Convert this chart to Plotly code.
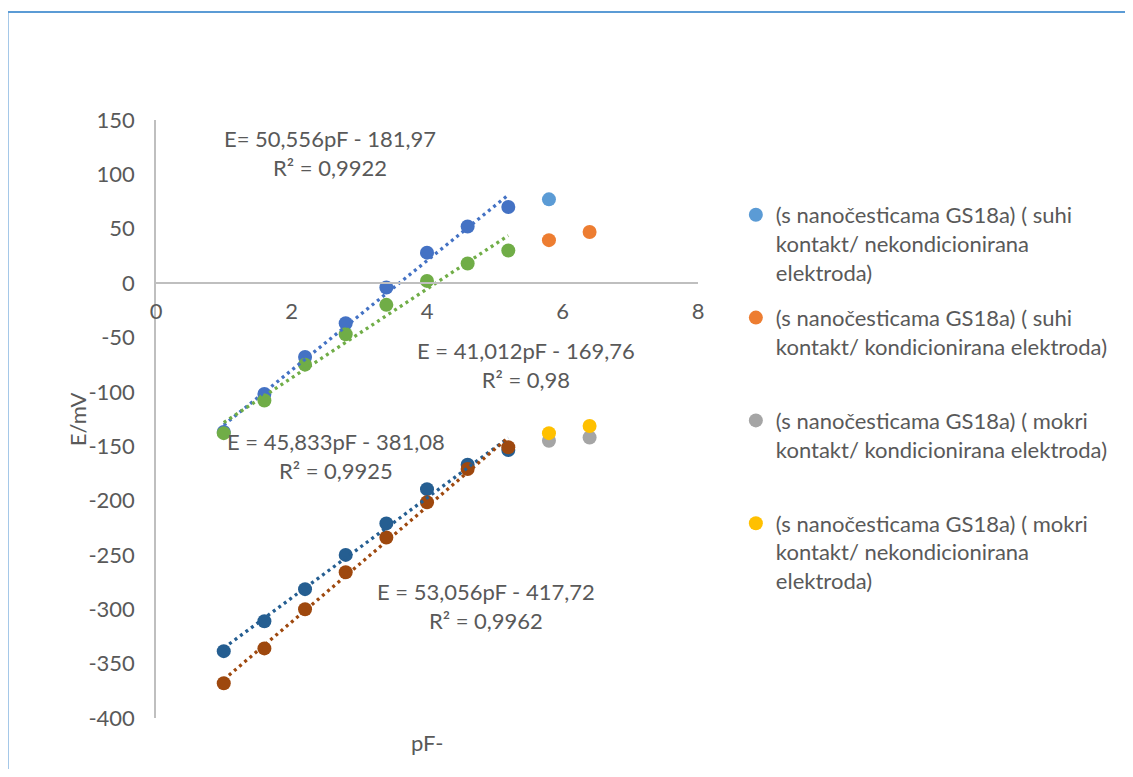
import numpy as np
import plotly.graph_objects as go

# ---------------- data ----------------
pF = [1.0, 1.6, 2.2, 2.8, 3.4, 4.0, 4.6, 5.2]
E_fit_blue = [-137, -102, -68, -37, -4, 28, 52, 70]
E_fit_green = [-138, -108, -75, -47, -20, 2, 18, 30]
E_fit_darkblue = [-338.5, -311, -281.5, -250, -221, -189.5, -167, -153.5]
E_fit_darkorange = [-368, -336, -300, -266, -234, -201.5, -171, -151]

pF_lightblue = [5.8]
E_lightblue = [77]
pF_extra = [5.8, 6.4]
E_orange = [39.5, 47]
E_gray = [-145, -142]
E_yellow = [-138, -131.5]

legend_names = [
    "(s nanočesticama GS18a) ( suhi<br>kontakt/ nekondicionirana<br>elektroda)",
    "(s nanočesticama GS18a) ( suhi<br>kontakt/ kondicionirana elektroda)<br> ",
    "(s nanočesticama GS18a) ( mokri<br>kontakt/ kondicionirana elektroda)<br> ",
    "(s nanočesticama GS18a) ( mokri<br>kontakt/ nekondicionirana<br>elektroda)",
]

equations = [
    "E= 50,556pF - 181,97<br>R² = 0,9922",
    "E = 41,012pF - 169,76<br>R² = 0,98",
    "E = 45,833pF - 381,08<br>R² = 0,9925",
    "E = 53,056pF - 417,72<br>R² = 0,9962",
]
eq_x = [2.57, 5.46, 2.66, 4.87]
eq_y = [120, -75, -158.7, -297]

x_ticks = [0, 2, 4, 6, 8]
y_ticks = [150, 100, 50, 0, -50, -100, -150, -200, -250, -300, -350, -400]

# ---------------- styling ----------------
FONT = "Lato"
TXT = "#595959"
FS = 22
MS = 14

# page body has an 8px margin: compensate so the plot area lands at 156..700 x 120..718
OFF = 8
L, T, PW, PH = 156 - OFF, 120 - OFF, 544, 598
W, H = 1133 - 2 * OFF, 777 - 2 * OFF

fig = go.Figure()

fit_series = [
    (E_fit_blue, "#4472C4"),
    (E_fit_green, "#70AD47"),
    (E_fit_darkblue, "#255E91"),
    (E_fit_darkorange, "#9E480E"),
]
for ys, col in fit_series:
    fig.add_trace(go.Scatter(x=pF, y=ys, mode="markers",
                             marker=dict(size=MS, color=col),
                             showlegend=False, hoverinfo="x+y"))

legend_series = [
    (pF_lightblue, E_lightblue, "#5B9BD5"),
    (pF_extra, E_orange, "#ED7D31"),
    (pF_extra, E_gray, "#A5A5A5"),
    (pF_extra, E_yellow, "#FFC000"),
]
for i, (xs, ys, col) in enumerate(legend_series):
    fig.add_trace(go.Scatter(x=xs, y=ys, mode="markers",
                             marker=dict(size=MS, color=col),
                             name=legend_names[i], legendgroup=str(i)))

# trendlines (least squares on each fitted series)
for ys, col in fit_series:
    k, n = np.polyfit(pF, ys, 1)
    xs = np.array([min(pF), max(pF)])
    fig.add_trace(go.Scatter(x=xs, y=k * xs + n, mode="lines",
                             line=dict(color=col, width=3.3, dash="3px,3.8px"),
                             showlegend=False, hoverinfo="skip"))

for t, x, y in zip(equations, eq_x, eq_y):
    fig.add_annotation(x=x, y=y, xref="x", yref="y", text=t, showarrow=False,
                       font=dict(family=FONT, size=FS, color=TXT),
                       xanchor="center", yanchor="middle", align="center")

# axis titles
fig.add_annotation(x=4, y=(718 - 742) / PH, xref="x", yref="paper", text="pF-", showarrow=False,
                   font=dict(family=FONT, size=FS, color=TXT), yanchor="middle")
fig.add_annotation(x=(77 - 156) / PW, y=0.5, xref="paper", yref="paper", text="E/mV",
                   showarrow=False, textangle=-90, font=dict(family=FONT, size=FS, color=TXT),
                   xanchor="center", yanchor="middle")

# chart border
fig.add_shape(type="rect", xref="paper", yref="paper",
              x0=(7 - 156) / PW, x1=(1145 - 156) / PW,
              y0=(718 - 800) / PH, y1=1 + (120 - 12) / PH,
              line=dict(color="#5B9BD5", width=2), fillcolor="rgba(0,0,0,0)", layer="below")

ymin, ymax = -400, 150
fig.update_layout(
    width=W, height=H,
    margin=dict(l=L, r=W - L - PW, t=T, b=H - T - PH, pad=0),
    paper_bgcolor="white", plot_bgcolor="white",
    font=dict(family=FONT, size=FS, color=TXT),
    xaxis=dict(range=[0, 8], tickvals=x_ticks, ticktext=[str(v) for v in x_ticks],
               showgrid=False, zeroline=False,
               showline=True, linecolor="#BFBFBF", linewidth=1.5,
               anchor="free", position=(0 - ymin) / (ymax - ymin),
               ticks="", ticklabelstandoff=9,
               tickfont=dict(family=FONT, size=FS, color=TXT)),
    yaxis=dict(range=[ymin, ymax], tickvals=y_ticks, ticktext=[str(v) for v in y_ticks],
               showgrid=False, zeroline=False,
               showline=True, linecolor="#BFBFBF", linewidth=1.5,
               ticks="", ticklabelstandoff=15,
               tickfont=dict(family=FONT, size=FS, color=TXT)),
    legend=dict(x=(738 - 156) / PW, y=(718 - 194) / PH, xanchor="left", yanchor="top",
                valign="top", tracegroupgap=14, bgcolor="rgba(0,0,0,0)",
                font=dict(family=FONT, size=FS, color=TXT)),
    showlegend=True,
)

fig.write_html("out.html")
